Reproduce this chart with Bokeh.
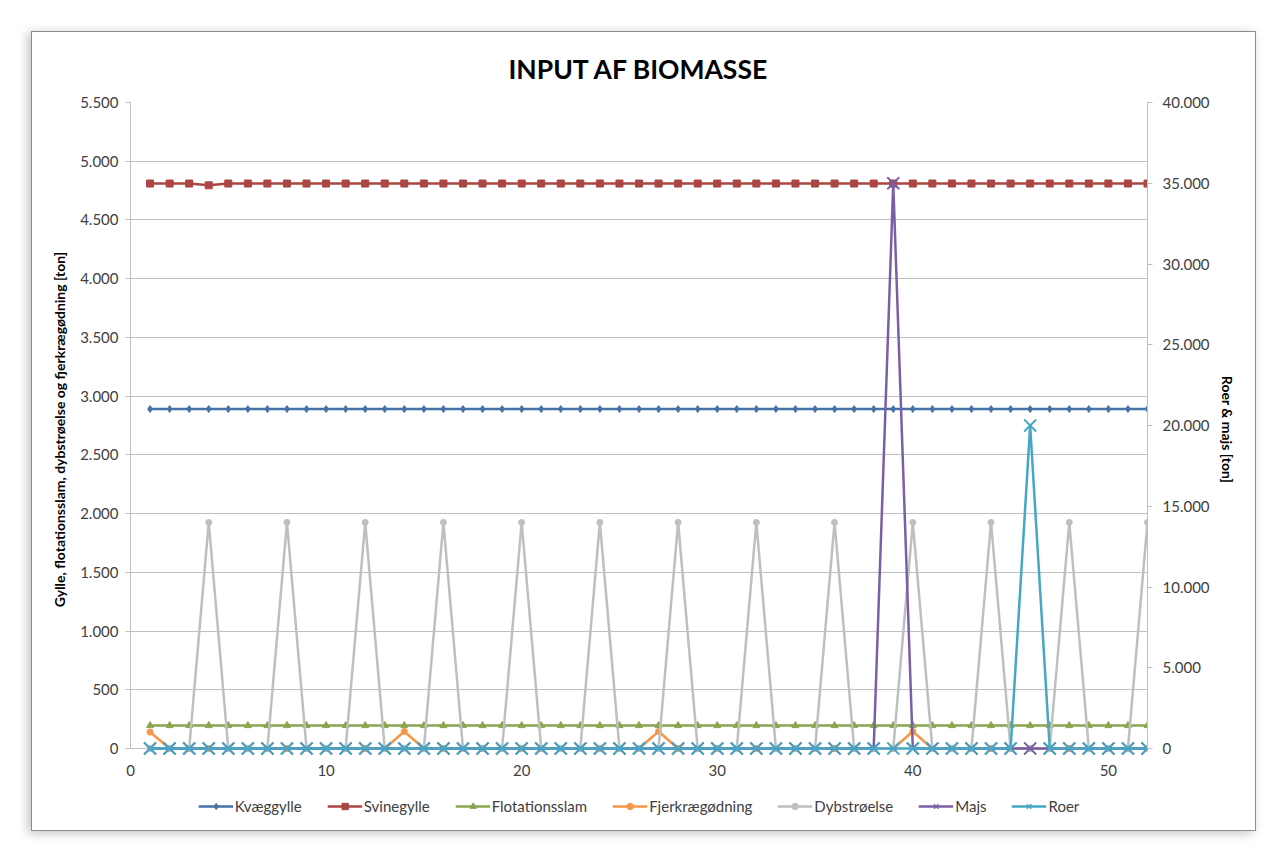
from bokeh.plotting import figure
from bokeh.layouts import column
from bokeh.models import (Range1d, LinearAxis, FixedTicker, Legend, LegendItem)
from bokeh.embed import file_html
from bokeh.resources import INLINE

# ---------------- data ----------------
weeks = list(range(1, 53))
kvaeggylle = [2890, 2890, 2890, 2890, 2890, 2890, 2890, 2890, 2890, 2890, 2890, 2890, 2890,
              2890, 2890, 2890, 2890, 2890, 2890, 2890, 2890, 2890, 2890, 2890, 2890, 2890,
              2890, 2890, 2890, 2890, 2890, 2890, 2890, 2890, 2890, 2890, 2890, 2890, 2890,
              2890, 2890, 2890, 2890, 2890, 2890, 2890, 2890, 2890, 2890, 2890, 2890, 2890]
svinegylle = [4810, 4810, 4810, 4795, 4810, 4810, 4810, 4810, 4810, 4810, 4810, 4810, 4810,
              4810, 4810, 4810, 4810, 4810, 4810, 4810, 4810, 4810, 4810, 4810, 4810, 4810,
              4810, 4810, 4810, 4810, 4810, 4810, 4810, 4810, 4810, 4810, 4810, 4810, 4810,
              4810, 4810, 4810, 4810, 4810, 4810, 4810, 4810, 4810, 4810, 4810, 4810, 4810]
flotationsslam = [195, 195, 195, 195, 195, 195, 195, 195, 195, 195, 195, 195, 195,
                  195, 195, 195, 195, 195, 195, 195, 195, 195, 195, 195, 195, 195,
                  195, 195, 195, 195, 195, 195, 195, 195, 195, 195, 195, 195, 195,
                  195, 195, 195, 195, 195, 195, 195, 195, 195, 195, 195, 195, 195]
fjerkraegodning = [140, 0, 0, 0, 0, 0, 0, 0, 0, 0, 0, 0, 0,
                   145, 0, 0, 0, 0, 0, 0, 0, 0, 0, 0, 0, 0,
                   145, 0, 0, 0, 0, 0, 0, 0, 0, 0, 0, 0, 0,
                   145, 0, 0, 0, 0, 0, 0, 0, 0, 0, 0, 0, 0]
dybstroelse = [0, 0, 0, 1925, 0, 0, 0, 1925, 0, 0, 0, 1925, 0,
               0, 0, 1925, 0, 0, 0, 1925, 0, 0, 0, 1925, 0, 0,
               0, 1925, 0, 0, 0, 1925, 0, 0, 0, 1925, 0, 0, 0,
               1925, 0, 0, 0, 1925, 0, 0, 0, 1925, 0, 0, 0, 1925]
majs = [0, 0, 0, 0, 0, 0, 0, 0, 0, 0, 0, 0, 0,
        0, 0, 0, 0, 0, 0, 0, 0, 0, 0, 0, 0, 0,
        0, 0, 0, 0, 0, 0, 0, 0, 0, 0, 0, 0, 35000,
        0, 0, 0, 0, 0, 0, 0, 0, 0, 0, 0, 0, 0]
roer = [0, 0, 0, 0, 0, 0, 0, 0, 0, 0, 0, 0, 0,
        0, 0, 0, 0, 0, 0, 0, 0, 0, 0, 0, 0, 0,
        0, 0, 0, 0, 0, 0, 0, 0, 0, 0, 0, 0, 0,
        0, 0, 0, 0, 0, 0, 20000, 0, 0, 0, 0, 0, 0]

x_ticks = [0, 10, 20, 30, 40, 50]
left_ticks = [0, 500, 1000, 1500, 2000, 2500, 3000, 3500, 4000, 4500, 5000, 5500]
right_ticks = [0, 5000, 10000, 15000, 20000, 25000, 30000, 35000, 40000]

title = "INPUT AF BIOMASSE"
left_label = "Gylle, flotationsslam, dybstrøelse og fjerkrægødning [ton]"
right_label = "Roer & majs [ton]"

FONT = "Lato"
TXT = "#404040"
GRID = "#BFBFBF"

# series styling (name, values, colour, marker, marker size, axis)
series = [
    ("Kvæggylle", kvaeggylle, "#4572A7", "diamond", 7, "default"),
    ("Svinegylle", svinegylle, "#AA4643", "square", 7, "default"),
    ("Flotationsslam", flotationsslam, "#89A54E", "triangle", 7, "default"),
    ("Fjerkrægødning", fjerkraegodning, "#F79646", "circle", 6, "default"),
    ("Dybstrøelse", dybstroelse, "#BFBFBF", "circle", 6, "default"),
    ("Majs", majs, "#7B5FA5", "x", 17, "right"),
    ("Roer", roer, "#45A7C4", "x", 17, "right"),
]


def dk(v):
    return f"{v:,.0f}".replace(",", ".")


# frame geometry: 646 px for the value span plus a small pad below zero so
# markers sitting on the zero line are not clipped
VAL_PX = 646
PAD_PX = 8
L_MAX, R_MAX = 5500, 40000
l_min = -PAD_PX * L_MAX / VAL_PX
r_min = -PAD_PX * R_MAX / VAL_PX

p = figure(frame_width=1017, frame_height=VAL_PX + PAD_PX, output_backend="svg",
           toolbar_location=None,
           x_range=Range1d(0, 52), y_range=Range1d(l_min, L_MAX),
           min_border_left=98, min_border_right=108, min_border_top=70, min_border_bottom=26)
p.extra_y_ranges = {"right": Range1d(r_min, R_MAX)}
p.outline_line_color = None
p.background_fill_color = "white"
p.border_fill_color = "white"

p.title.text = title
p.title.align = "center"
p.title.offset = 6
p.title.text_font = FONT
p.title.text_font_size = "26.5px"
p.title.text_font_style = "bold"
p.title.text_color = "#000000"
p.title.standoff = 36

# axes
p.xaxis.ticker = FixedTicker(ticks=x_ticks)
p.yaxis.ticker = FixedTicker(ticks=left_ticks)
p.yaxis.major_label_overrides = {t: dk(t) for t in left_ticks}
p.yaxis.axis_label = left_label
p.yaxis.bounds = (0, L_MAX)

ax_r = LinearAxis(y_range_name="right", ticker=FixedTicker(ticks=right_ticks),
                  axis_label=right_label, bounds=(0, R_MAX))
ax_r.major_label_overrides = {t: dk(t) for t in right_ticks}
p.add_layout(ax_r, "right")

for ax in [p.xaxis[0], p.yaxis[0], ax_r]:
    ax.axis_line_color = GRID
    ax.minor_tick_line_color = None
    ax.major_tick_line_color = GRID
    ax.major_tick_in = 0
    ax.major_tick_out = 5
    ax.major_label_text_font = FONT
    ax.major_label_text_font_size = "15px"
    ax.major_label_text_color = TXT
    ax.axis_label_text_font = FONT
    ax.axis_label_text_font_size = "14px"
    ax.axis_label_text_font_style = "bold"
    ax.axis_label_text_color = "#000000"
p.xaxis.major_tick_line_color = None
p.xaxis.axis_line_color = None
p.xaxis.major_label_standoff = 3
p.yaxis.major_label_standoff = 7
ax_r.major_label_standoff = 10
p.yaxis.axis_label_standoff = 9
ax_r.axis_label_standoff = 6

p.xgrid.grid_line_color = None
p.ygrid.grid_line_color = GRID
p.ygrid.grid_line_width = 1

LW = 2.5

# legend strip below the chart; its sample renderers hold the same series,
# but its x range lies outside the weeks so only the legend is visible
pl = figure(width=1017 + 98 + 108, height=48, output_backend="svg", toolbar_location=None,
            x_axis_type=None, y_axis_type=None, min_border=0,
            x_range=Range1d(100, 101), y_range=Range1d(0, 1))
pl.outline_line_color = None
pl.grid.visible = False
pl.background_fill_color = "white"
pl.border_fill_color = "white"

items = []
for name, vals, col, mk, ms, rng in series:
    p.line(weeks, vals, line_color=col, line_width=LW, y_range_name=rng)
    if mk == "x":
        p.scatter(weeks, vals, marker=mk, size=ms, line_color=col, line_width=1.8, y_range_name=rng)
    else:
        p.scatter(weeks, vals, marker=mk, size=ms, fill_color=col, line_color=col, y_range_name=rng)
    lr = pl.line(weeks, vals, line_color=col, line_width=LW)
    if mk == "x":
        sr = pl.scatter(weeks, vals, marker=mk, size=9, line_color=col, line_width=1.5)
    else:
        sr = pl.scatter(weeks, vals, marker=mk, size=ms, fill_color=col, line_color=col)
    items.append(LegendItem(label=name, renderers=[lr, sr]))

legend = Legend(items=items, orientation="horizontal", location="center",
                label_text_font=FONT, label_text_font_size="15px", label_text_color=TXT,
                glyph_width=35, glyph_height=16, label_standoff=2, spacing=25,
                padding=0, margin=0, border_line_color=None, background_fill_alpha=0)
pl.add_layout(legend, "center")

layout = column(p, pl, spacing=0)
layout.margin = (31, 0, 0, 31)
layout.styles = {"border": "1px solid #8c8c8c", "box-shadow": "-3px 2px 10px rgba(0,0,0,0.25)"}

open("out.html", "w").write(file_html(layout, INLINE))
